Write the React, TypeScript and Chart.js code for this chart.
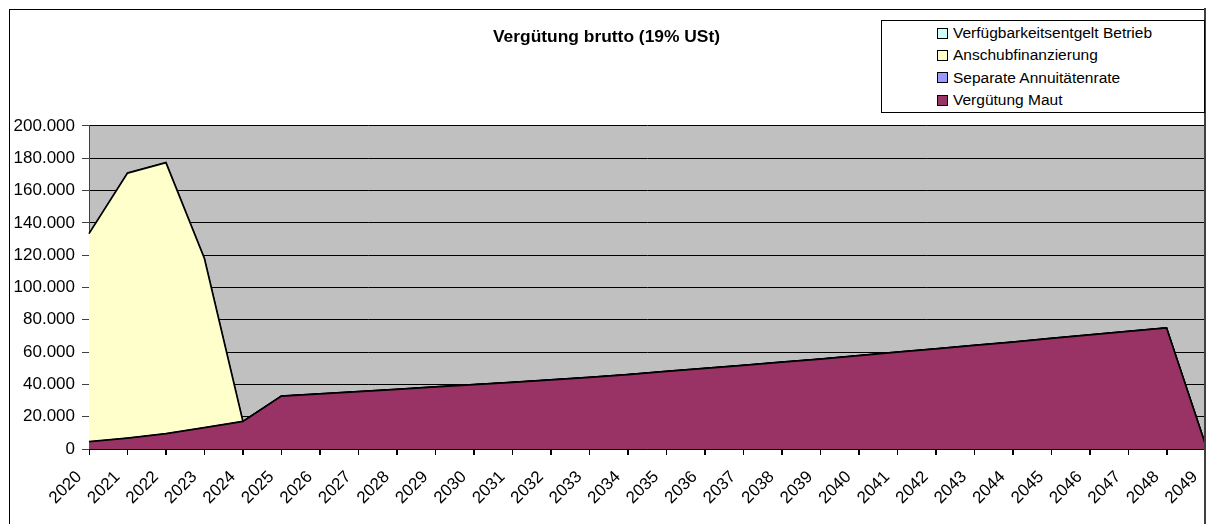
import React, { useEffect, useRef } from 'react';
import { Chart, registerables } from 'chart.js';

Chart.register(...registerables);

const years = [
  '2020', '2021', '2022', '2023', '2024', '2025', '2026', '2027', '2028', '2029',
  '2030', '2031', '2032', '2033', '2034', '2035', '2036', '2037', '2038', '2039',
  '2040', '2041', '2042', '2043', '2044', '2045', '2046', '2047', '2048', '2049',
];

const verguetungMaut = [
  4500, 6800, 9500, 13300, 17100, 32800, 34100, 35500, 36900, 38400,
  39900, 41300, 42800, 44300, 46100, 48000, 49900, 51800, 53700, 55700,
  57800, 59900, 62000, 64100, 66200, 68400, 70600, 72800, 75000, 3500,
];

const separateAnnuitaetenrate = [
  0, 0, 0, 0, 0, 0, 0, 0, 0, 0,
  0, 0, 0, 0, 0, 0, 0, 0, 0, 0,
  0, 0, 0, 0, 0, 0, 0, 0, 0, 0,
];

const anschubfinanzierung = [
  128800, 164000, 167800, 104600, 0, 0, 0, 0, 0, 0,
  0, 0, 0, 0, 0, 0, 0, 0, 0, 0,
  0, 0, 0, 0, 0, 0, 0, 0, 0, 0,
];

const verfuegbarkeitsentgeltBetrieb = [
  0, 0, 0, 0, 0, 0, 0, 0, 0, 0,
  0, 0, 0, 0, 0, 0, 0, 0, 0, 0,
  0, 0, 0, 0, 0, 0, 0, 0, 0, 0,
];

const titleText = 'Vergütung brutto (19% USt)';
const yMin = 0;
const yMax = 200000;
const yStep = 20000;

const legendItems = [
  { label: 'Verfügbarkeitsentgelt Betrieb', color: '#CCFFFF' },
  { label: 'Anschubfinanzierung', color: '#FFFFCC' },
  { label: 'Separate Annuitätenrate', color: '#9999FF' },
  { label: 'Vergütung Maut', color: '#993366' },
];

const FONT = "'Liberation Sans', Arial, sans-serif";

const fmt = (v: number) => String(Math.round(v)).replace(/\B(?=(\d{3})+(?!\d))/g, '.');

const W = 1200;
const H = 516;

const bgPlugin = {
  id: 'bgPlugin',
  beforeDraw(chart: any) {
    const { ctx, chartArea } = chart;
    ctx.save();
    ctx.fillStyle = '#ffffff';
    ctx.fillRect(0, 0, chart.width, chart.height);
    ctx.fillStyle = '#C0C0C0';
    ctx.fillRect(chartArea.left, chartArea.top, chartArea.right - chartArea.left, chartArea.bottom - chartArea.top);
    ctx.restore();
  },
  afterDraw(chart: any) {
    const { ctx, chartArea } = chart;
    const xs = chart.scales.x;
    ctx.save();
    // x-axis tick marks
    ctx.strokeStyle = '#000000';
    ctx.lineWidth = 1;
    ctx.beginPath();
    for (let i = 0; i < years.length; i++) {
      const px = Math.round(xs.getPixelForTick(i)) + 0.5;
      ctx.moveTo(px, chartArea.bottom);
      ctx.lineTo(px, chartArea.bottom + 6);
    }
    ctx.stroke();
    // outer chart frame
    ctx.strokeRect(1.5, 1.5, 1196, 600);
    ctx.strokeStyle = '#404040';
    ctx.lineWidth = 2;
    ctx.beginPath();
    ctx.moveTo(1197, 0);
    ctx.lineTo(1197, H);
    ctx.stroke();
    ctx.restore();
  },
};

export default function App() {
  const ref = useRef<HTMLCanvasElement | null>(null);

  useEffect(() => {
    if (!ref.current) return;
    const mk = (label: string, data: number[], color: string, fill: any, bw: number) => ({
      label,
      data,
      backgroundColor: color,
      borderColor: '#000000',
      borderWidth: bw,
      fill,
      tension: 0,
      pointRadius: 0,
      pointHoverRadius: 0,
    });
    const chart = new Chart(ref.current, {
      type: 'line',
      data: {
        labels: years,
        datasets: [
          mk('Vergütung Maut', verguetungMaut, '#993366', 'origin', 1.75),
          mk('Separate Annuitätenrate', separateAnnuitaetenrate, '#9999FF', '-1', 1),
          mk('Anschubfinanzierung', anschubfinanzierung, '#FFFFCC', '-1', 1.75),
          mk('Verfügbarkeitsentgelt Betrieb', verfuegbarkeitsentgeltBetrieb, '#CCFFFF', '-1', 1),
        ],
      },
      options: {
        responsive: false,
        animation: false,
        layout: { padding: { left: 0, right: 3, top: 0, bottom: 0 } },
        plugins: {
          legend: { display: false },
          tooltip: { enabled: false },
          title: {
            display: true,
            text: titleText,
            color: '#000000',
            font: { family: FONT, size: 17.4, weight: 'bold' },
            padding: { top: 19, bottom: 78 },
          },
        },
        scales: {
          x: {
            type: 'category',
            offset: false,
            grid: {
              display: true,
              drawOnChartArea: false,
              drawTicks: true,
              tickLength: 6,
              tickColor: '#000000',
            },
            border: { display: true, color: '#000000', width: 1 },
            ticks: {
              autoSkip: false,
              maxRotation: 45,
              minRotation: 45,
              color: '#000000',
              padding: 12,
              labelOffset: -10,
              font: { family: FONT, size: 17 },
            },
            afterFit(axis: any) {
              axis.height = 75;
              axis.paddingLeft = 0;
              axis.paddingRight = 0;
            },
          },
          y: {
            type: 'linear',
            stacked: true,
            min: yMin,
            max: yMax,
            grid: {
              color: '#000000',
              lineWidth: 1,
              drawTicks: true,
              tickLength: 7,
              tickColor: '#404040',
            },
            border: { display: true, color: '#404040', width: 1 },
            ticks: {
              stepSize: yStep,
              color: '#000000',
              padding: 7,
              font: { family: FONT, size: 17 },
              callback: (v: any) => fmt(Number(v)),
            },
            afterFit(axis: any) {
              axis.width = 81;
            },
          },
        },
      },
      plugins: [bgPlugin],
    });
    return () => chart.destroy();
  }, []);

  return (
    <div style={{ position: 'fixed', left: 8, top: 8, width: W, height: H, overflow: 'hidden' }}>
      <canvas ref={ref} width={W} height={H} style={{ display: 'block' }} />
      <div
        style={{
          position: 'absolute',
          left: 873,
          top: 12,
          width: 322,
          height: 90,
          border: '1px solid #000',
          background: '#fff',
          boxSizing: 'content-box',
          paddingTop: 1,
          fontFamily: FONT,
          fontSize: '15.5px',
          color: '#000',
        }}
      >
        {legendItems.map((it) => (
          <div key={it.label} style={{ display: 'flex', alignItems: 'center', height: 22.3, paddingLeft: 55 }}>
            <span
              style={{
                display: 'inline-block',
                width: 9,
                height: 9,
                border: '1px solid #000',
                background: it.color,
                marginRight: 5,
              }}
            />
            <span style={{ whiteSpace: 'nowrap' }}>{it.label}</span>
          </div>
        ))}
      </div>
    </div>
  );
}
